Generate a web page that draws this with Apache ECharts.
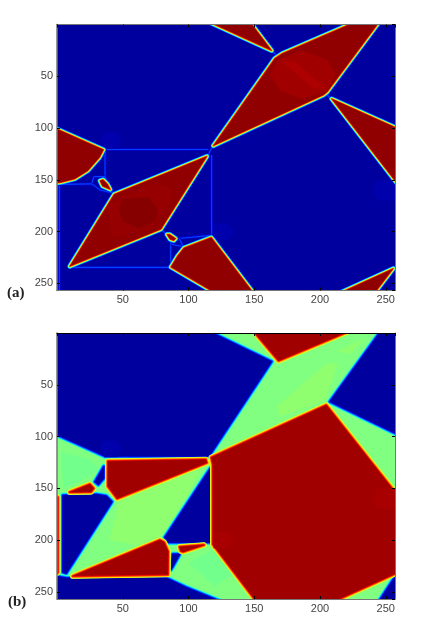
<!doctype html>
<html>
<head>
<meta charset="utf-8">
<title>fig</title>
<style>
html,body{height:100%;padding:0;margin:0;background:#fff;}
#main{width:436px;height:636px;}
</style>
</head>
<body>
<div id="main"></div>
<script src="https://cdn.jsdelivr.net/npm/echarts@6/dist/echarts.min.js"></script>
<script>
// levels
var LOW = 0.03, MID = 0.5, HIGH_A = 0.984, HIGH_B = 0.968;
var tickLabels = [50, 100, 150, 200, 250];

// panel (a): red regions, outlines in pixel-index units [col, row]
var aTopTriangle = [[114,-3],[147.5,-3],[164,26]];
var aUpperDiamond = [[118,118],[165,32],[171,27],[225.6,-3],[246.4,-3],[206,66],[203,69]];
var aRightTriangle = [[208,71],[262,101],[262,160]];
var aLeftTriangle = [[-5,97],[36.5,120.5],[33,129],[24,142],[14,150],[3,153.6],[-5,155]];
var aCentreDiamond = [[8.7,234.7],[42.9,163.2],[115,126.3],[79.6,198.6]];
var aBlobUpper = [[31.5,150.4],[35.3,148.8],[39,153.6],[41.6,160.7],[34,156.9]];
var aBlobLower = [[82.1,201.8],[85.9,201.8],[91.5,206.7],[89,209.9],[85.4,208.3]];
var aBottomTriangle = [[117.6,204.5],[152,262],[122,262],[85.4,234.7],[91,223],[96,215]];
var aCornerTriangle = [[210,262],[256.5,235],[241,262]];
// slight shade changes inside the regions
var aShadeUpper = [[168,34],[186,25],[205,34],[212,48],[205,65],[186,72],[170,64],[162,48]];
var aStreakUpper = [[170,35],[180,35],[205,62],[195,62]];
var aShadeCentreOuter = [[38,175],[72,153],[88,158],[84,178],[70,198],[42,205]];
var aShadeCentre = [[50,168],[70,167],[77,180],[75,190],[62,197],[50,190],[47,178]];
var blueSpotTop = [[36,104],[45,104],[49,111],[46,120],[36,120],[33,111]];
var blueSpotRight = [[244,150],[257,150],[257,170],[244,170],[240,160]];
var blueSpotMiddle = [[119,192],[130,192],[135,200],[130,208],[119,208]];
// the thin blue network
var aNetwork = [
  [[36.5,120.7],[115,120.7]],
  [[36.5,120],[36.5,147],[43,163]],
  [[28,147],[36.5,147]],
  [[26.4,154],[28,147]],
  [[26.4,154],[33,160],[43,163]],
  [[117.6,126],[117.6,204]],
  [[8.7,234.7],[85,234.7]],
  [[1.8,155],[1.8,257]],
  [[1.8,154.5],[26.4,154]],
  [[86.4,210],[86.4,230]],
  [[86.4,212],[96,214.8]],
  [[92.2,206.7],[117.6,203.7]],
  [[93,206.7],[96,214.8]],
  [[79.6,198.6],[83,202]],
  [[118,118],[115,126]],
  [[205,68],[208,71]],
  [[164,26],[167,30]]
];

// panel (b): blue regions
var bTopLeftBlue = [[-5,-5],[112,-5],[164.4,27.2],[116.3,119.6],[113.8,120.2],[36.5,120.2],[0.3,99.7],[-5,97]];
var bTopRightBlue = [[247,-5],[262,-5],[262,101],[206.2,66.7]];
var bLeftBlue = [[3.6,155.9],[30.2,154.9],[37.8,156.5],[42.9,162.9],[7.4,233.5],[3.6,231.9]];
var bRightBlue = [[116.9,129.3],[80.9,197.6],[84.7,203.4],[116.3,203.4],[117.9,200.8]];
var bSmallBlueUpper = [[27.7,144],[35.9,127.4],[36.4,140.8],[31.5,147.9]];
var bSmallBlueLower = [[85.9,230.3],[87.2,212.6],[94.8,212.6],[88.4,227]];
var bBottomBlue = [[-5,233],[7.4,235.7],[83.4,235.7],[98.6,244.8],[121.4,256.6],[131,262],[-5,262]];
var bCornerBlue = [[256.2,235.1],[245.5,255.9],[242,262],[262,262],[262,231]];
// panel (b): red regions
var bLargeRed = [[205,68.3],[262,160],[262,231],[208,262],[152,262],[117.6,204.6],[117.6,127.6],[116.3,119.6]];
var bTopRed = [[147.5,-3],[168.2,28.2],[225,-3]];
var bCentreRed = [[37.8,122.8],[113.8,121.2],[115,126],[45.4,161.3],[37.8,148.5]];
var bLowerRed = [[11.2,235.1],[78.3,198.8],[82.1,201.4],[85.4,211],[85.2,234.5]];
var bSmallRedUpper = [[8.7,154],[25.2,144.8],[29,150],[26.4,154.6]];
var bSmallRedLower = [[93.5,211.6],[92,205.6],[112.5,204.6],[95.8,212.6]];
var bLeftStripe = [[-3,155],[1.5,158],[1.5,232],[-3,236]];
// panel (b): small changes inside the green
var bShadeRight = [[167,71.5],[187,48.7],[205,29.5],[213.6,29.5],[203.7,65],[169.5,81]];
var bShadeTop = [[212,18],[233,5],[224,20]];
var bShadeCentre = [[47,163],[80,145],[110,132],[82,195],[60,205],[40,200]];
var bShadeLeft = [[3,115],[25,122],[32,132],[20,142],[5,150]];
var bShadeLower = [[100,222],[118,210],[135,232],[120,245]];
var bRedSpotRight = [[244,150],[257,150],[257,170],[244,170],[240,160]];
var bRedSpotMiddle = [[119,192],[130,192],[135,200],[130,208],[119,208]];

var panelA = [
  {value: 0.045, outline: blueSpotTop, flat: true},
  {value: 0.045, outline: blueSpotRight, flat: true},
  {value: 0.045, outline: blueSpotMiddle, flat: true},
  {value: HIGH_A, outline: aTopTriangle},
  {value: HIGH_A, outline: aUpperDiamond},
  {value: 0.968, outline: aShadeUpper, flat: true},
  {value: 0.955, outline: aStreakUpper, flat: true},
  {value: HIGH_A, outline: aRightTriangle},
  {value: HIGH_A, outline: aLeftTriangle},
  {value: HIGH_A, outline: aCentreDiamond},
  {value: 0.978, outline: aShadeCentreOuter, flat: true},
  {value: 0.994, outline: aShadeCentre, flat: true},
  {value: HIGH_A, outline: aBlobUpper},
  {value: HIGH_A, outline: aBlobLower},
  {value: HIGH_A, outline: aBottomTriangle},
  {value: HIGH_A, outline: aCornerTriangle}
];

var panelB = [
  {value: 0.515, outline: bShadeRight, flat: true},
  {value: 0.515, outline: bShadeTop, flat: true},
  {value: 0.515, outline: bShadeCentre, flat: true},
  {value: 0.488, outline: bShadeLeft, flat: true},
  {value: 0.488, outline: bShadeLower, flat: true},
  {value: LOW, outline: bTopLeftBlue},
  {value: 0.045, outline: blueSpotTop, flat: true},
  {value: LOW, outline: bTopRightBlue},
  {value: LOW, outline: bLeftBlue},
  {value: LOW, outline: bRightBlue},
  {value: LOW, outline: bSmallBlueUpper},
  {value: LOW, outline: bSmallBlueLower},
  {value: LOW, outline: bBottomBlue},
  {value: LOW, outline: bCornerBlue},
  {value: HIGH_B, outline: bLargeRed},
  {value: 0.96, outline: bRedSpotRight, flat: true},
  {value: 0.96, outline: bRedSpotMiddle, flat: true},
  {value: HIGH_B, outline: bTopRed},
  {value: HIGH_B, outline: bCentreRed},
  {value: HIGH_B, outline: bLowerRed},
  {value: HIGH_B, outline: bSmallRedUpper},
  {value: HIGH_B, outline: bSmallRedLower},
  {value: HIGH_B, outline: bLeftStripe}
];

// matlab jet
function jet(v){
  function ch(x){ return Math.round(Math.max(0, Math.min(1, x)) * 255); }
  var r = Math.min(4 * v - 1.5, -4 * v + 4.5);
  var g = Math.min(4 * v - 0.5, -4 * v + 3.5);
  var b = Math.min(4 * v + 0.5, -4 * v + 2.5);
  return 'rgb(' + ch(r) + ',' + ch(g) + ',' + ch(b) + ')';
}

var RAMP_STEPS = 8, RAMP_WIDTH = 5.5, EDGE_INSET = 1.1;

// pull an outline in so the colour ramp sits centred on the traced edge
function inset(points, d){
  var n = points.length, area = 0, i;
  for(i = 0; i < n; i++){
    var q = points[(i + 1) % n];
    area += points[i][0] * q[1] - q[0] * points[i][1];
  }
  var sign = area > 0 ? 1 : -1;
  function normal(a, b){
    var ex = b[0] - a[0], ey = b[1] - a[1], len = Math.sqrt(ex * ex + ey * ey) || 1;
    return [-ey / len * sign, ex / len * sign];
  }
  return points.map(function(p, k){
    var n1 = normal(points[(k + n - 1) % n], p), n2 = normal(p, points[(k + 1) % n]);
    var m = Math.min(2.5, 1 / Math.max(0.2, 1 + n1[0] * n2[0] + n1[1] * n2[1]));
    return [p[0] + d * m * (n1[0] + n2[0]), p[1] + d * m * (n1[1] + n2[1])];
  });
}

function regionSeries(regions, background, xIndex, yIndex){
  return {
    type: 'custom',
    coordinateSystem: 'cartesian2d',
    xAxisIndex: xIndex,
    yAxisIndex: yIndex,
    clip: true,
    silent: true,
    animation: false,
    data: regions.map(function(r, i){ return [i]; }),
    renderItem: function(params, api){
      var region = regions[params.dataIndex];
      var points = region.outline.map(function(p){ return api.coord(p); });
      var children = [];
      if(!region.flat){
        points = inset(points, EDGE_INSET);
        for(var s = 0; s < RAMP_STEPS; s++){
          var t = (s + 1) / (RAMP_STEPS + 1);
          children.push({
            type: 'polygon',
            shape: {points: points},
            style: {
              fill: null,
              stroke: jet(background + (region.value - background) * t),
              lineWidth: RAMP_WIDTH * (1 - s / RAMP_STEPS),
              lineJoin: 'round'
            }
          });
        }
      }
      children.push({type: 'polygon', shape: {points: points}, style: {fill: jet(region.value)}});
      return {type: 'group', children: children};
    }
  };
}

function networkSeries(lines, xIndex, yIndex){
  return {
    type: 'custom',
    coordinateSystem: 'cartesian2d',
    xAxisIndex: xIndex,
    yAxisIndex: yIndex,
    clip: true,
    silent: true,
    animation: false,
    data: lines.map(function(l, i){ return [i]; }),
    renderItem: function(params, api){
      var points = lines[params.dataIndex].map(function(p){ return api.coord(p); });
      return {type: 'group', children: [
        {type: 'polyline', shape: {points: points}, style: {fill: null, stroke: jet(0.07), lineWidth: 3}},
        {type: 'polyline', shape: {points: points}, style: {fill: null, stroke: jet(0.19), lineWidth: 1.1}}
      ]};
    }
  };
}

function backgroundSeries(value, xIndex, yIndex){
  return regionSeries([{value: value, flat: true, outline: [[-5,-5],[262,-5],[262,262],[-5,262]]}], value, xIndex, yIndex);
}

function xAxis(grid, top, lineColor){
  return {
    type: 'value', gridIndex: grid, position: top ? 'top' : 'bottom', min: 0, max: 257, interval: 50, z: 5,
    splitLine: {show: false},
    axisLine: {onZero: false, lineStyle: {color: lineColor, width: 1}},
    axisTick: {inside: true, length: 3, lineStyle: {color: '#000'}},
    axisLabel: {show: !top, showMinLabel: false, showMaxLabel: false, color: '#444', fontSize: 11, fontFamily: 'Liberation Sans', margin: 4}
  };
}
function yAxis(grid, right, lineColor){
  return {
    type: 'value', gridIndex: grid, position: right ? 'right' : 'left', inverse: true, min: 0, max: 257, interval: 50, z: 5,
    splitLine: {show: false},
    axisLine: {onZero: false, lineStyle: {color: lineColor, width: right ? 1 : 1.5}},
    axisTick: {inside: true, length: 3, lineStyle: {color: '#000'}},
    axisLabel: {show: !right, showMinLabel: false, showMaxLabel: false, color: '#444', fontSize: 11, fontFamily: 'Liberation Sans', margin: 4}
  };
}

var myChart = echarts.init(document.getElementById('main'), null, {renderer: 'canvas'});
var option = {
  backgroundColor: '#fff',
  animation: false,
  grid: [
    {left: 57, top: 24.5, width: 338, height: 266},
    {left: 57, top: 333, width: 338, height: 266}
  ],
  xAxis: [xAxis(0, false, '#777'), xAxis(0, true, '#777'), xAxis(1, false, '#777'), xAxis(1, true, '#000')],
  yAxis: [yAxis(0, false, '#777'), yAxis(0, true, '#777'), yAxis(1, false, '#777'), yAxis(1, true, '#777')],
  graphic: [
    {type: 'text', left: 7, top: 286, style: {text: '(a)', font: 'bold 15px "Liberation Serif"', fill: '#222'}},
    {type: 'text', left: 8, top: 595, style: {text: '(b)', font: 'bold 15px "Liberation Serif"', fill: '#222'}}
  ],
  series: [
    backgroundSeries(LOW, 0, 0),
    networkSeries(aNetwork, 0, 0),
    regionSeries(panelA, LOW, 0, 0),
    backgroundSeries(MID, 2, 2),
    regionSeries(panelB, MID, 2, 2)
  ]
};
myChart.setOption(option);
</script>
</body>
</html>
